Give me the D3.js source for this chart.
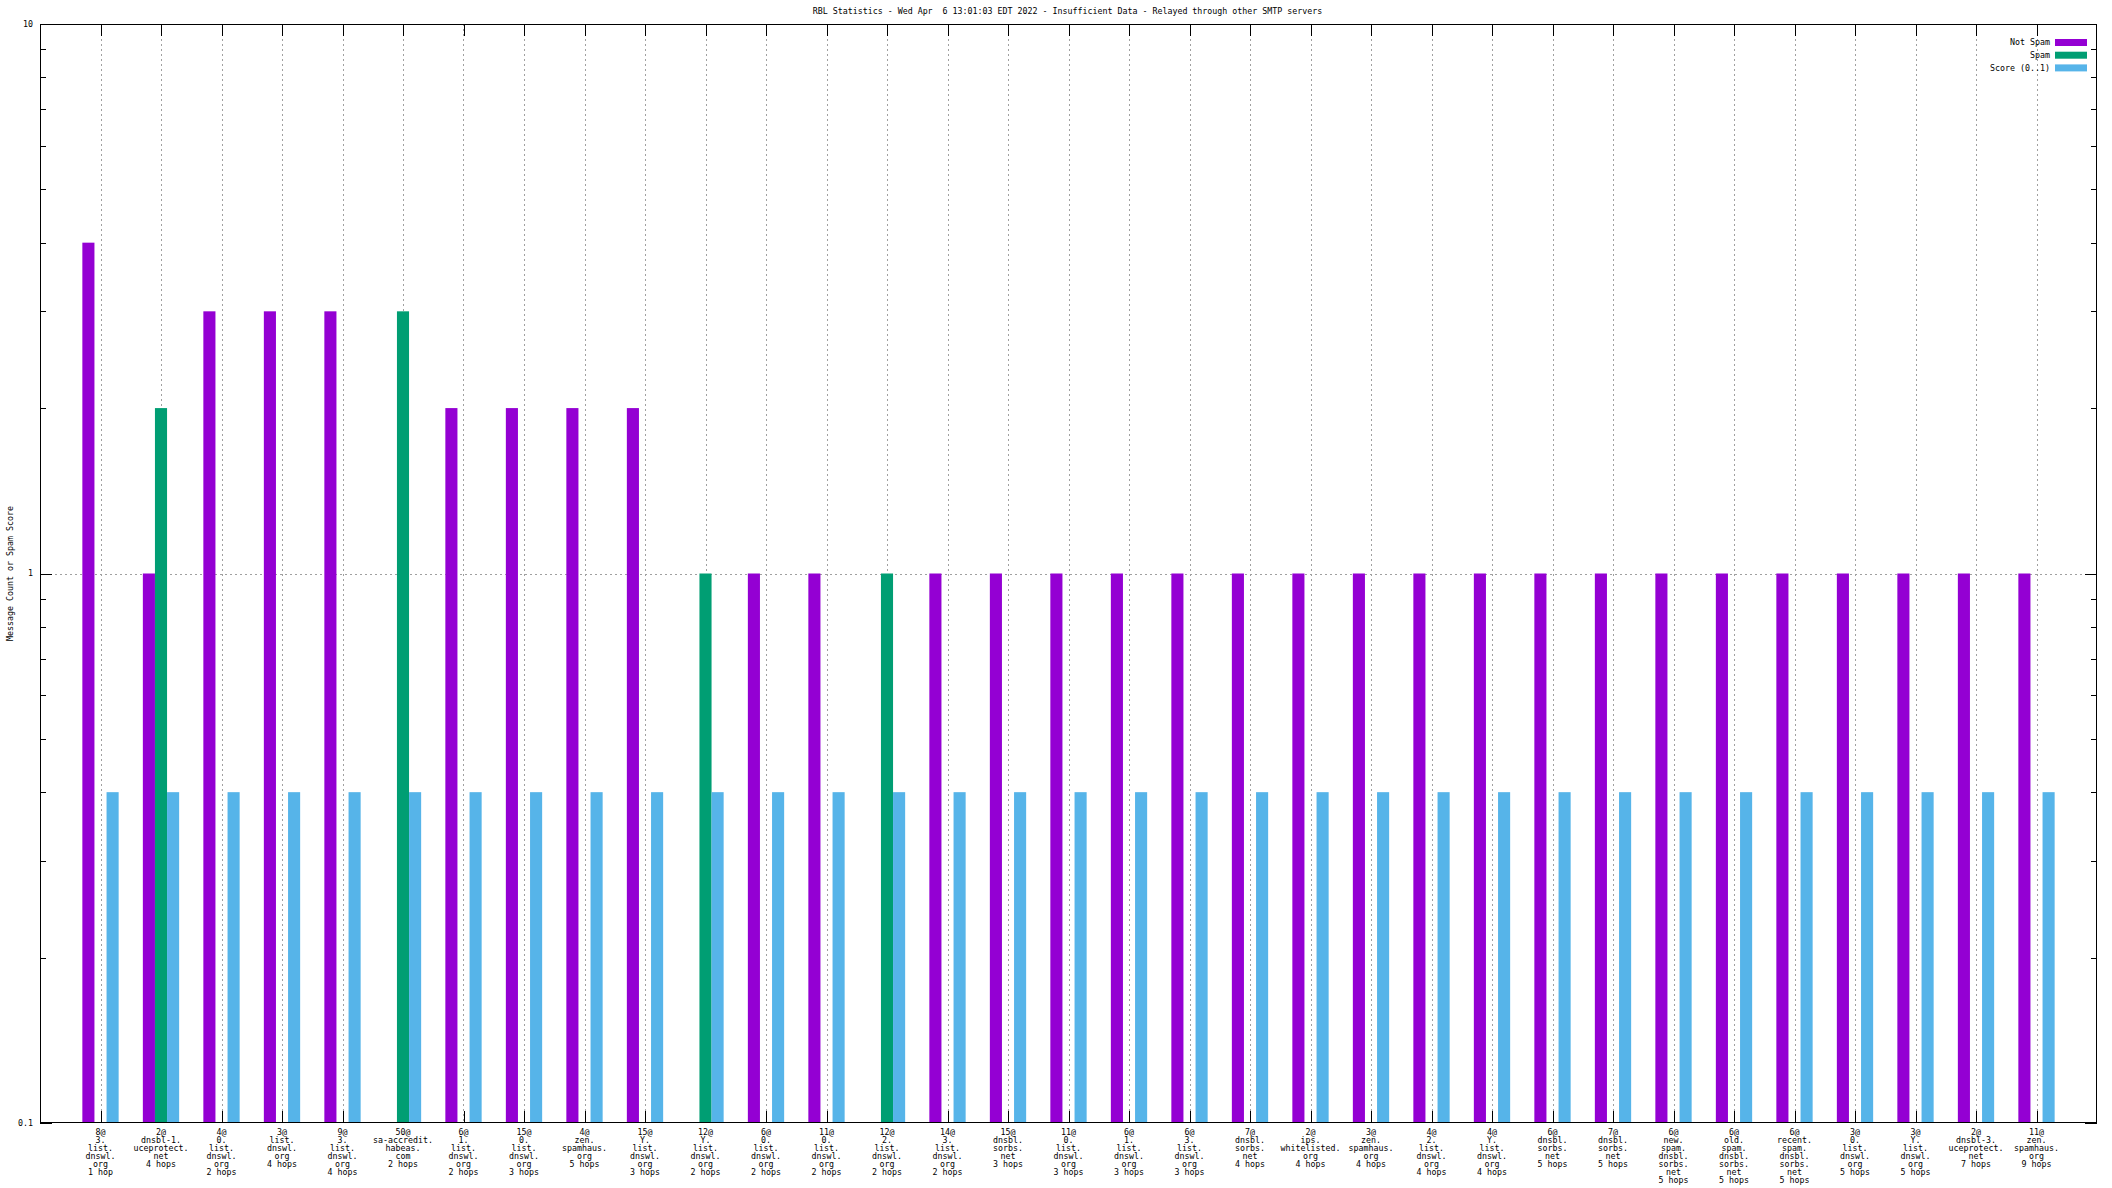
<!DOCTYPE html>
<html><head><meta charset="utf-8">
<script src="https://cdn.jsdelivr.net/npm/d3@7"></script>
<style>
html,body{margin:0;padding:0;background:#fff;}
text{font-family:"DejaVu Sans Mono",monospace;font-size:8.3px;fill:#000;}
</style></head>
<body>
<svg id="chart" width="2112" height="1188"></svg>
<script>
const categories = [
 "8@\n3.\nlist.\ndnswl.\norg\n1 hop",
 "2@\ndnsbl-1.\nuceprotect.\nnet\n4 hops",
 "4@\n0.\nlist.\ndnswl.\norg\n2 hops",
 "3@\nlist.\ndnswl.\norg\n4 hops",
 "9@\n3.\nlist.\ndnswl.\norg\n4 hops",
 "50@\nsa-accredit.\nhabeas.\ncom\n2 hops",
 "6@\n1.\nlist.\ndnswl.\norg\n2 hops",
 "15@\n0.\nlist.\ndnswl.\norg\n3 hops",
 "4@\nzen.\nspamhaus.\norg\n5 hops",
 "15@\nY.\nlist.\ndnswl.\norg\n3 hops",
 "12@\nY.\nlist.\ndnswl.\norg\n2 hops",
 "6@\n0.\nlist.\ndnswl.\norg\n2 hops",
 "11@\n0.\nlist.\ndnswl.\norg\n2 hops",
 "12@\n2.\nlist.\ndnswl.\norg\n2 hops",
 "14@\n3.\nlist.\ndnswl.\norg\n2 hops",
 "15@\ndnsbl.\nsorbs.\nnet\n3 hops",
 "11@\n0.\nlist.\ndnswl.\norg\n3 hops",
 "6@\n1.\nlist.\ndnswl.\norg\n3 hops",
 "6@\n3.\nlist.\ndnswl.\norg\n3 hops",
 "7@\ndnsbl.\nsorbs.\nnet\n4 hops",
 "2@\nips.\nwhitelisted.\norg\n4 hops",
 "3@\nzen.\nspamhaus.\norg\n4 hops",
 "4@\n2.\nlist.\ndnswl.\norg\n4 hops",
 "4@\nY.\nlist.\ndnswl.\norg\n4 hops",
 "6@\ndnsbl.\nsorbs.\nnet\n5 hops",
 "7@\ndnsbl.\nsorbs.\nnet\n5 hops",
 "6@\nnew.\nspam.\ndnsbl.\nsorbs.\nnet\n5 hops",
 "6@\nold.\nspam.\ndnsbl.\nsorbs.\nnet\n5 hops",
 "6@\nrecent.\nspam.\ndnsbl.\nsorbs.\nnet\n5 hops",
 "3@\n0.\nlist.\ndnswl.\norg\n5 hops",
 "3@\nY.\nlist.\ndnswl.\norg\n5 hops",
 "2@\ndnsbl-3.\nuceprotect.\nnet\n7 hops",
 "11@\nzen.\nspamhaus.\norg\n9 hops"
];
const notSpam = [4,1,3,3,3,null,2,2,2,2,null,1,1,null,1,1,1,1,1,1,1,1,1,1,1,1,1,1,1,1,1,1,1];
const spam    = [null,2,null,null,null,3,null,null,null,null,1,null,null,1,null,null,null,null,null,null,null,null,null,null,null,null,null,null,null,null,null,null,null];
const score   = [0.4,0.4,0.4,0.4,0.4,0.4,0.4,0.4,0.4,0.4,0.4,0.4,0.4,0.4,0.4,0.4,0.4,0.4,0.4,0.4,0.4,0.4,0.4,0.4,0.4,0.4,0.4,0.4,0.4,0.4,0.4,0.4,0.4];
const seriesNames = ["Not Spam","Spam","Score (0..1)"];
const colors = ["#9400d3","#009e73","#56b4e9"];
const yMajor = [0.1,1,10];
const yMinor = [0.2,0.3,0.4,0.5,0.6,0.7,0.8,0.9,2,3,4,5,6,7,8,9];
const title = "RBL Statistics - Wed Apr  6 13:01:03 EDT 2022 - Insufficient Data - Relayed through other SMTP servers";
const yTitle = "Message Count or Spam Score";

const L=40, R=2097, T=24, B=1123;
const svg = d3.select("#chart");
const x = d3.scaleLinear().domain([-1, categories.length]).range([L, R]);
const y = d3.scaleLog().domain([0.1, 10]).range([B, T]);
const idx = d3.range(categories.length);

// grid
const grid = svg.append("g").attr("stroke","#a0a0a0").attr("stroke-dasharray","2,3").attr("shape-rendering","crispEdges");
idx.forEach(i=>{
  grid.append("line").attr("x1",Math.round(x(i))+0.5).attr("x2",Math.round(x(i))+0.5).attr("y1",T).attr("y2",B);
});
grid.append("line").attr("x1",L).attr("x2",R).attr("y1",Math.round(y(1))+0.5).attr("y2",Math.round(y(1))+0.5);

// axes ticks (inward, mirrored)
function styleAxis(g){ g.select(".domain").remove(); g.selectAll("line").attr("stroke","#000").attr("shape-rendering","crispEdges"); g.selectAll("text").remove(); }
svg.append("g").attr("transform",`translate(${L},0)`).call(d3.axisRight(y).tickValues(yMajor).tickSize(12).tickFormat("")).call(styleAxis);
svg.append("g").attr("transform",`translate(${L},0)`).call(d3.axisRight(y).tickValues(yMinor).tickSize(6).tickFormat("")).call(styleAxis);
svg.append("g").attr("transform",`translate(${R},0)`).call(d3.axisLeft(y).tickValues(yMajor).tickSize(12).tickFormat("")).call(styleAxis);
svg.append("g").attr("transform",`translate(${R},0)`).call(d3.axisLeft(y).tickValues(yMinor).tickSize(6).tickFormat("")).call(styleAxis);
svg.append("g").attr("transform",`translate(0,${B})`).call(d3.axisTop(x).tickValues(idx).tickSize(12).tickFormat("")).call(styleAxis);
svg.append("g").attr("transform",`translate(0,${T})`).call(d3.axisBottom(x).tickValues(idx).tickSize(12).tickFormat("")).call(styleAxis);

// bars
const bw = 0.2;
const series = [notSpam, spam, score];
series.forEach((vals, s)=>{
  const off = (s-1)*bw;
  svg.append("g").selectAll("rect").data(idx.filter(i=>vals[i]!=null)).join("rect")
    .attr("x", i=>x(i+off-bw/2))
    .attr("width", i=>x(i+off+bw/2)-x(i+off-bw/2))
    .attr("y", i=>y(vals[i]))
    .attr("height", i=>y(0.1)-y(vals[i]))
    .attr("fill", colors[s]);
});

// border
svg.append("rect").attr("x",L+0.5).attr("y",T+0.5).attr("width",R-L-1).attr("height",B-T-1)
  .attr("fill","none").attr("stroke","#000").attr("shape-rendering","crispEdges");

// y labels
yMajor.forEach(v=>{
  svg.append("text").attr("x",L-7).attr("y",y(v)).attr("dy","0.32em").attr("text-anchor","end").text(v===0.1?"0.1":String(v));
});
svg.append("text").attr("transform",`translate(10,${(T+B)/2}) rotate(-90)`).attr("text-anchor","middle").attr("dy","0.32em").text(yTitle);

// x labels
idx.forEach(i=>{
  const t = svg.append("text").attr("text-anchor","middle").attr("x",x(i)).attr("y",B+12);
  categories[i].split("\n").forEach((ln,k)=>{
    t.append("tspan").attr("x",x(i)).attr("y",B+12+k*8).text(ln);
  });
});

// title
svg.append("text").attr("x",(812+1323)/2).attr("y",14).attr("text-anchor","middle").style("white-space","pre").attr("xml:space","preserve").text(title);

// legend
seriesNames.forEach((n,k)=>{
  const cy = 42.5 + k*12.7;
  svg.append("text").attr("x",2050).attr("y",cy).attr("dy","0.32em").attr("text-anchor","end").style("white-space","pre").text(n);
  svg.append("rect").attr("x",2055).attr("y",cy-3.5).attr("width",32).attr("height",7).attr("fill",colors[k]);
});
</script>
</body></html>
